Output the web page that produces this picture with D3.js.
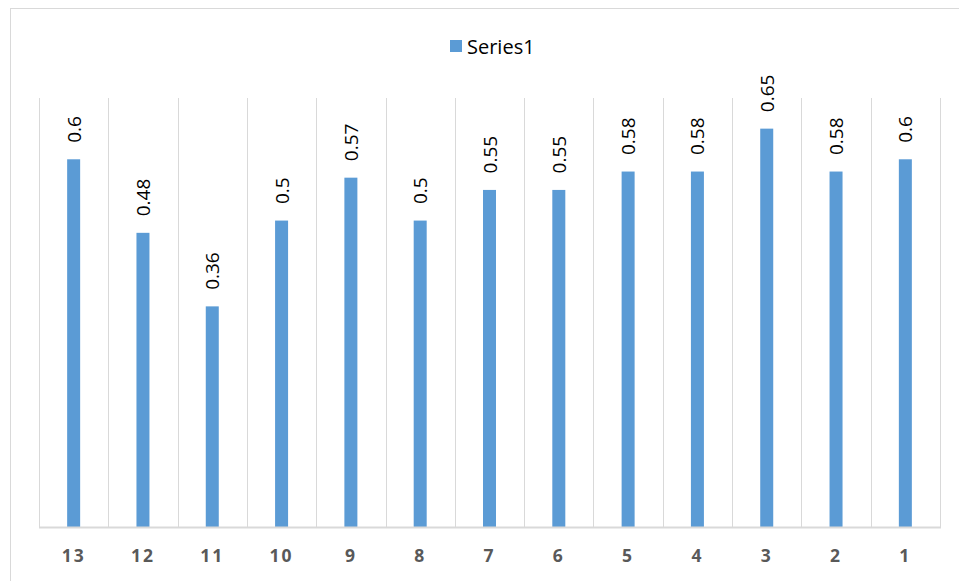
<!DOCTYPE html>
<html>
<head>
<meta charset="utf-8">
<script src="https://cdn.jsdelivr.net/npm/d3@7"></script>
<style>
  html, body { margin: 0; padding: 0; background: #fff; }
  svg { display: block; }
</style>
</head>
<body>
<svg id="chart" width="959" height="581"></svg>
<script>
// Category labels in drawing order and their values
const categories = ["13", "12", "11", "10", "9", "8", "7", "6", "5", "4", "3", "2", "1"];
const values = [0.6, 0.48, 0.36, 0.5, 0.57, 0.5, 0.55, 0.55, 0.58, 0.58, 0.65, 0.58, 0.6];
const seriesName = "Series1";

const svg = d3.select("#chart");
const plot = { left: 39, right: 940, top: 98, bottom: 527 };
const barColor = "#5b9bd5";
const gridColor = "#d9d9d9";
const fontFamily = "'Open Sans', 'Noto Sans', 'Liberation Sans', sans-serif";

// Outer chart frame
svg.append("rect")
  .attr("x", 10.5).attr("y", 8.5)
  .attr("width", 970).attr("height", 590)
  .attr("fill", "#fff")
  .attr("stroke", gridColor).attr("stroke-width", 1);

const x = d3.scaleBand()
  .domain(categories)
  .range([plot.left, plot.right])
  .paddingInner(0).paddingOuter(0);

const y = d3.scaleLinear()
  .domain([0, 0.7])
  .range([plot.bottom, plot.top]);

// Vertical gridlines on category boundaries
const bounds = categories.map(c => x(c)).concat([plot.right]);
svg.append("g").selectAll("line")
  .data(bounds)
  .join("line")
  .attr("x1", d => Math.round(d) + 0.5).attr("x2", d => Math.round(d) + 0.5)
  .attr("y1", plot.top).attr("y2", plot.bottom)
  .attr("stroke", gridColor).attr("stroke-width", 1);

const barW = 13;

// Bars
svg.append("g").selectAll("rect")
  .data(values)
  .join("rect")
  .attr("x", (d, i) => x(categories[i]) + x.bandwidth() / 2 - barW / 2)
  .attr("y", d => y(d))
  .attr("width", barW)
  .attr("height", d => y(0) - y(d))
  .attr("fill", barColor);

// X axis baseline and labels
const xAxis = d3.axisBottom(x).tickSize(0).tickPadding(0);
const gx = svg.append("g")
  .attr("transform", `translate(0,${plot.bottom})`)
  .call(xAxis);
gx.select(".domain")
  .attr("stroke", gridColor).attr("stroke-width", 2)
  .attr("d", `M${plot.left},0.5H${plot.right + 1}`);
gx.selectAll(".tick text")
  .attr("y", 35)
  .attr("dy", 0)
  .attr("fill", "#595959")
  .style("font-family", fontFamily)
  .style("font-size", "17.5px")
  .style("font-weight", "bold")
  .style("letter-spacing", "2px");

// Rotated value labels above each bar
svg.append("g").selectAll("text")
  .data(values)
  .join("text")
  .attr("transform", (d, i) => {
    const cx = x(categories[i]) + x.bandwidth() / 2;
    return `translate(${cx + 7},${y(d) - 16.5}) rotate(-90)`;
  })
  .attr("text-anchor", "start")
  .attr("fill", "#000")
  .style("font-family", fontFamily)
  .style("font-size", "19px")
  .text(d => String(d));

// Legend
const legend = svg.append("g").attr("transform", "translate(450,40)");
legend.append("rect").attr("width", 12).attr("height", 12).attr("fill", barColor);
legend.append("text")
  .attr("x", 17).attr("y", 13.5)
  .attr("fill", "#000")
  .style("font-family", fontFamily)
  .style("font-size", "20px")
  .text(seriesName);
</script>
</body>
</html>
